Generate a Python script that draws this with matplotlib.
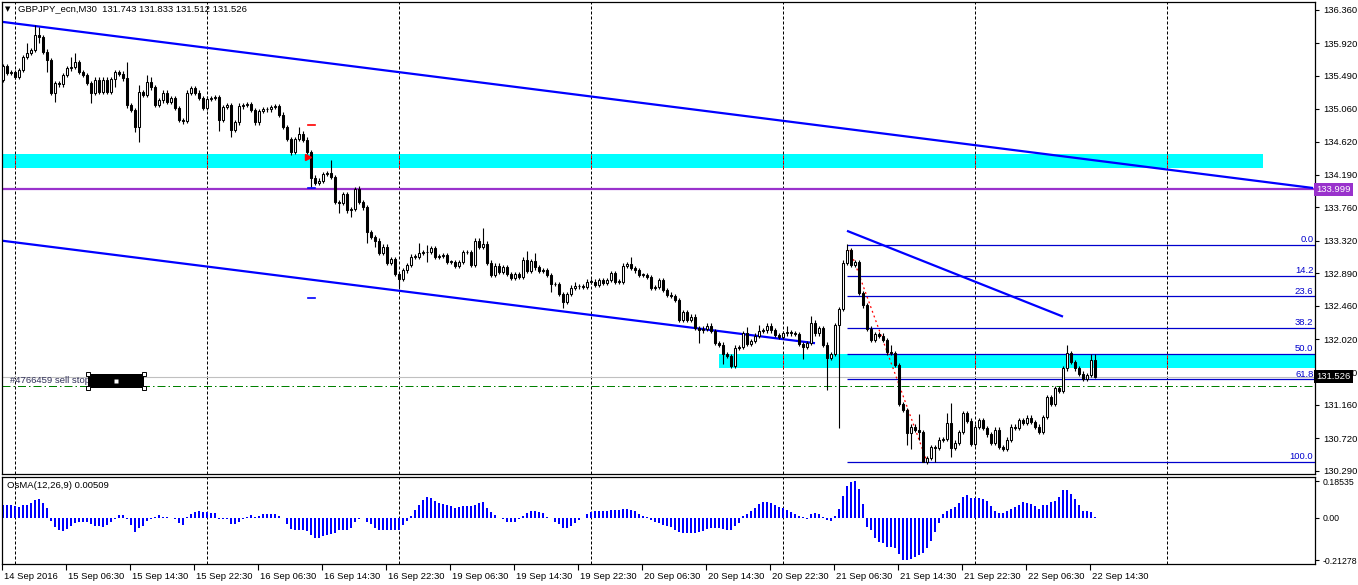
import numpy as np
import matplotlib
matplotlib.use("Agg")
import matplotlib.pyplot as plt
from matplotlib.patches import Rectangle
import matplotlib.transforms as mtransforms

plt.rcParams['font.family'] = ['Liberation Sans', 'DejaVu Sans']

# ---------------- data ----------------
symbol_header = "GBPJPY_ecn,M30  131.743 131.833 131.512 131.526"
osma_header = "OsMA(12,26,9) 0.00509"

first_open = 135.44
closes = [
    135.62, 135.53, 135.54, 135.48, 135.57, 135.74, 135.79, 135.83, 136.03, 136.00,
    135.81, 135.70, 135.27, 135.40, 135.38, 135.50, 135.59, 135.61, 135.67, 135.54,
    135.50, 135.40, 135.27, 135.44, 135.28, 135.44, 135.28, 135.45, 135.54, 135.52,
    135.46, 135.11, 135.04, 134.82, 135.28, 135.24, 135.41, 135.34, 135.11, 135.17,
    135.27, 135.15, 135.20, 135.07, 134.91, 134.90, 135.27, 135.33, 135.27, 135.20,
    135.07, 135.19, 135.20, 135.21, 134.91, 135.08, 135.11, 134.78, 134.88, 135.09,
    135.11, 135.12, 135.04, 134.88, 135.03, 135.05, 135.05, 135.08, 135.09, 134.98,
    134.82, 134.66, 134.49, 134.66, 134.73, 134.65, 134.49, 134.15, 134.08, 134.11,
    134.20, 134.21, 134.16, 133.83, 133.82, 133.93, 133.72, 133.74, 134.00, 133.83,
    133.76, 133.43, 133.37, 133.32, 133.16, 133.24, 133.03, 133.08, 132.88, 132.82,
    132.93, 133.00, 133.11, 133.11, 133.16, 133.17, 133.17, 133.22, 133.11, 133.12,
    133.13, 133.04, 133.04, 132.99, 133.04, 133.17, 133.17, 133.00, 133.32, 133.24,
    133.28, 133.03, 132.87, 132.99, 132.91, 132.97, 132.88, 132.83, 132.88, 132.84,
    133.07, 132.92, 133.05, 132.97, 132.92, 132.93, 132.87, 132.75, 132.75, 132.62,
    132.51, 132.62, 132.70, 132.72, 132.72, 132.71, 132.78, 132.78, 132.74, 132.80,
    132.76, 132.80, 132.89, 132.78, 132.78, 132.99, 133.01, 132.96, 132.93, 132.87,
    132.87, 132.84, 132.70, 132.71, 132.80, 132.67, 132.61, 132.59, 132.54, 132.28,
    132.38, 132.28, 132.32, 132.17, 132.14, 132.16, 132.20, 132.13, 131.97, 131.95,
    131.83, 131.80, 131.67, 131.91, 131.92, 132.10, 131.96, 132.00, 132.07, 132.13,
    132.14, 132.20, 132.14, 132.08, 132.05, 132.10, 132.12, 132.10, 132.09, 131.96,
    131.92, 131.97, 132.24, 132.10, 132.17, 131.95, 131.78, 131.83, 132.21, 132.42,
    133.03, 133.20, 133.00, 133.04, 132.63, 132.47, 132.16, 132.01, 132.09, 132.07,
    132.01, 131.85, 131.84, 131.68, 131.17, 131.09, 130.79, 130.87, 130.83, 130.80,
    130.41, 130.46, 130.60, 130.59, 130.70, 130.71, 130.92, 130.59, 130.66, 130.80,
    131.05, 130.95, 130.64, 130.87, 130.96, 130.85, 130.77, 130.66, 130.83, 130.60,
    130.58, 130.70, 130.87, 130.85, 130.96, 130.92, 130.99, 130.93, 130.87, 130.80,
    131.00, 131.26, 131.17, 131.38, 131.34, 131.64, 131.84, 131.72, 131.64, 131.57,
    131.50, 131.55, 131.743, 131.526,
]
upper_wick = [
    .03, .03, .03, .03, .03, .03, .14, .03, .13, .11,
    .03, .03, .03, .03, .03, .03, .03, .13, .12, .03,
    .03, .03, .03, .03, .03, .03, .03, .03, .03, .03,
    .03, .21, .03, .03, .09, .03, .09, .07, .03, .03,
    .03, .03, .03, .03, .03, .03, .03, .03, .03, .03,
    .03, .03, .03, .03, .03, .03, .03, .03, .03, .05,
    .03, .03, .03, .03, .03, .03, .03, .03, .03, .03,
    .03, .03, .03, .03, .09, .03, .03, .03, .03, .03,
    .03, .03, .17, .03, .03, .03, .03, .03, .03, .04,
    .03, .03, .03, .03, .03, .03, .03, .03, .03, .03,
    .03, .03, .03, .03, .13, .03, .09, .03, .03, .03,
    .03, .03, .03, .03, .03, .03, .03, .03, .03, .03,
    .21, .03, .03, .03, .03, .03, .03, .03, .03, .03,
    .03, .12, .03, .11, .03, .03, .03, .03, .03, .03,
    .03, .03, .03, .05, .03, .03, .03, .03, .03, .03,
    .03, .03, .03, .03, .03, .03, .03, .09, .03, .03,
    .03, .03, .03, .03, .03, .03, .03, .03, .03, .03,
    .03, .03, .03, .03, .03, .03, .03, .03, .03, .03,
    .03, .03, .03, .03, .03, .03, .08, .03, .03, .08,
    .03, .03, .03, .03, .03, .03, .07, .03, .03, .03,
    .03, .03, .09, .03, .03, .03, .03, .03, .03, .03,
    .03, .07, .03, .03, .03, .03, .03, .03, .03, .03,
    .03, .03, .09, .03, .03, .03, .03, .03, .03, .21,
    .03, .03, .03, .03, .03, .03, .13, .26, .03, .03,
    .03, .03, .03, .03, .03, .03, .03, .03, .03, .03,
    .03, .03, .03, .03, .03, .03, .03, .03, .03, .03,
    .03, .03, .03, .03, .03, .03, .11, .03, .03, .03,
    .03, .03, .08, .09,
]
lower_wick = [
    .03, .03, .03, .03, .03, .03, .03, .03, .03, .07,
    .03, .16, .03, .12, .03, .03, .03, .03, .03, .03,
    .03, .03, .13, .03, .03, .03, .03, .03, .11, .03,
    .03, .04, .03, .07, .20, .03, .03, .03, .03, .03,
    .03, .03, .03, .03, .03, .04, .03, .03, .03, .03,
    .03, .03, .03, .03, .14, .03, .03, .09, .03, .03,
    .03, .03, .03, .03, .03, .03, .03, .03, .03, .03,
    .03, .03, .04, .03, .03, .03, .03, .12, .03, .03,
    .03, .03, .03, .03, .13, .03, .03, .09, .03, .03,
    .03, .14, .03, .08, .03, .03, .03, .03, .03, .11,
    .03, .03, .03, .03, .03, .03, .13, .03, .03, .03,
    .03, .03, .03, .03, .03, .03, .03, .03, .03, .03,
    .03, .03, .03, .03, .03, .03, .03, .03, .03, .03,
    .03, .03, .03, .03, .03, .03, .03, .11, .03, .03,
    .08, .03, .03, .03, .03, .03, .03, .03, .03, .03,
    .03, .03, .03, .03, .03, .03, .03, .03, .03, .03,
    .03, .03, .03, .03, .03, .03, .03, .03, .03, .03,
    .03, .03, .03, .03, .17, .03, .03, .03, .03, .03,
    .13, .03, .03, .03, .03, .03, .03, .03, .03, .03,
    .03, .03, .03, .03, .03, .03, .03, .03, .03, .03,
    .16, .03, .03, .03, .03, .03, .43, .03, .03, 1.36,
    .03, .03, .03, .03, .03, .03, .03, .03, .03, .03,
    .03, .03, .03, .03, .03, .03, .16, .21, .03, .11,
    .01, .03, .03, .18, .03, .03, .03, .12, .03, .03,
    .03, .03, .03, .03, .03, .03, .03, .03, .03, .03,
    .03, .03, .03, .03, .03, .03, .03, .03, .03, .03,
    .03, .03, .03, .03, .03, .03, .03, .03, .03, .03,
    .03, .03, .03, .014,
]
osma = [
    .068, .065, .063, .059, .054, .063, .068, .074, .090, .095,
    .077, .050, -.013, -.043, -.061, -.067, -.054, -.040, -.027, -.022,
    -.018, -.018, -.031, -.040, -.040, -.043, -.036, -.022, -.004, .014,
    .014, -.007, -.036, -.070, -.049, -.040, -.013, -.004, .004, .013,
    .007, .004, -.002, -.004, -.025, -.036, .004, .018, .029, .036,
    .029, .029, .027, .023, -.004, -.005, -.004, -.031, -.031, -.018,
    -.007, .005, .014, .005, .011, .018, .018, .018, .018, .011,
    -.002, -.031, -.054, -.061, -.058, -.058, -.067, -.085, -.103, -.099,
    -.090, -.085, -.079, -.076, -.061, -.058, -.058, -.049, -.022, -.007,
    .002, -.022, -.031, -.049, -.058, -.058, -.061, -.058, -.058, -.058,
    -.036, -.013, .011, .041, .068, .090, .104, .101, .086, .077,
    .072, .065, .059, .050, .054, .058, .058, .058, .068, .074,
    .079, .050, .029, .014, .002, -.004, -.018, -.018, -.018, -.004,
    .011, .023, .036, .036, .032, .023, .005, .000, -.018, -.030,
    -.050, -.050, -.038, -.024, -.010, .002, .019, .031, .036, .036,
    .034, .034, .038, .038, .041, .046, .046, .041, .033, .021,
    .012, .003, -.012, -.022, -.024, -.034, -.040, -.043, -.058, -.071,
    -.074, -.076, -.076, -.076, -.072, -.065, -.053, -.050, -.050, -.052,
    -.055, -.058, -.058, -.041, -.024, .010, .022, .034, .052, .069,
    .081, .083, .074, .064, .057, .048, .040, .031, .019, .009,
    .003, -.004, .019, .024, .021, .007, -.010, -.017, .010, .045,
    .110, .162, .179, .18535, .148, .071, -.045, -.060, -.101, -.119,
    -.127, -.144, -.148, -.152, -.180, -.210, -.21278, -.205, -.196, -.188,
    -.176, -.150, -.115, -.070, -.025, .020, .035, .045, .055, .075,
    .108, .116, .100, .100, .100, .096, .088, .060, .037, .024,
    .024, .036, .045, .057, .065, .079, .076, .071, .060, .045,
    .065, .065, .082, .088, .105, .139, .139, .122, .098, .065,
    .036, .034, .030, .00509,
]

x_labels = ["14 Sep 2016", "15 Sep 06:30", "15 Sep 14:30", "15 Sep 22:30",
            "16 Sep 06:30", "16 Sep 14:30", "16 Sep 22:30", "19 Sep 06:30",
            "19 Sep 14:30", "19 Sep 22:30", "20 Sep 06:30", "20 Sep 14:30",
            "20 Sep 22:30", "21 Sep 06:30", "21 Sep 14:30", "21 Sep 22:30",
            "22 Sep 06:30", "22 Sep 14:30"]
price_ticks = [136.360, 135.920, 135.490, 135.060, 134.620, 134.190, 133.760,
               133.320, 132.890, 132.460, 132.020, 131.590, 131.160, 130.720, 130.290]
osma_ticks = [0.18535, 0.0, -0.21278]
osma_tick_labels = ["0.18535", "0.00", "-0.21278"]

fib_levels = [0.0, 14.2, 23.6, 38.2, 50.0, 61.8, 100.0]
fib_price_0 = 133.26
fib_price_100 = 130.40
fib_start_bar = 211
fib_swing_bars = [211.75, 231.0]
fib_swing_prices = [133.20, 130.41]

channel_top_bars = [-0.25, 327.5]
channel_top_prices = [136.203, 134.014]
channel_bottom_bars = [-0.25, 203.0]
channel_bottom_prices = [133.32, 131.97]
short_trend_bars = [211.0, 265.0]
short_trend_prices = [133.45, 132.32]

zone_upper_bars = [-1.0, 315.0]
zone_upper_prices = [134.281, 134.462]
zone_lower_bars = [179.0, 400.0]
zone_lower_prices = [131.647, 131.828]

resistance_level = 133.999
bid_price = 131.526
sell_stop_price = 131.41
sell_stop_text = "#4766459 sell stop"
sell_box_bars = [21.25, 35.25]
sell_box_prices = [131.38, 131.564]

order_mark_bars = [76.3, 78.0]
order_red_price = 134.84
order_arrow_price = 134.42
order_blue_prices = [134.02, 132.565]

# ---------------- figure ----------------
W, H = 1358, 585
fig = plt.figure(figsize=(W / 100, H / 100), dpi=100)
fig.patch.set_facecolor('white')

ax = fig.add_axes([2 / W, 1 - 474 / H, (1315 - 2) / W, (474 - 2) / H])
ax2 = fig.add_axes([2 / W, 1 - 564 / H, (1315 - 2) / W, (564 - 477) / H])

FS = 6.8
n = len(closes)
idx = np.arange(n)
c = np.array(closes)
o = np.r_[first_open, c[:-1]]
hi = np.maximum(o, c) + np.array(upper_wick)
lo = np.minimum(o, c) - np.array(lower_wick)

xmin, xmax = -0.25, 328.0
ax.set_xlim(xmin, xmax)
ax.set_ylim(130.247, 136.464)
ax2.set_xlim(xmin, xmax)
ax2.set_ylim(-0.2318, 0.2066)

# zones
for bars, prices in [(zone_upper_bars, zone_upper_prices), (zone_lower_bars, zone_lower_prices)]:
    ax.add_patch(Rectangle((bars[0], prices[0]), bars[1] - bars[0], prices[1] - prices[0],
                           facecolor='#00FFFF', edgecolor='none', zorder=1))

# vertical dashed grid
grid_x = np.arange(3, xmax, 48)
for gx in grid_x:
    ax.axvline(gx, color='black', lw=0.72, ls=(0, (3, 2)), zorder=1.5)
    ax2.axvline(gx, color='black', lw=0.72, ls=(0, (3, 2)), zorder=0.5)
    for bars, prices in [(zone_upper_bars, zone_upper_prices), (zone_lower_bars, zone_lower_prices)]:
        if bars[0] <= gx <= bars[1]:
            ax.plot([gx, gx], prices, color='red', lw=0.72, ls=(0, (3, 2)), zorder=1.6)

# horizontal levels
ax.axhline(resistance_level, color='#9932CC', lw=1.6, zorder=2)
ax.axhline(bid_price, color='#C0C0C0', lw=0.8, zorder=2)
ax.axhline(sell_stop_price, color='#008000', lw=0.72, ls=(0, (8, 3, 1.5, 3)), zorder=2)

# trend lines
for bx, py in [(channel_top_bars, channel_top_prices),
               (channel_bottom_bars, channel_bottom_prices),
               (short_trend_bars, short_trend_prices)]:
    ax.plot(bx, py, color='#0000FF', lw=1.6, zorder=2.2, solid_capstyle='butt')

# fibonacci
fib_prices = [fib_price_0 - lv / 100.0 * (fib_price_0 - fib_price_100) for lv in fib_levels]
ax.hlines(fib_prices, fib_start_bar, xmax, color='#0000CD', lw=0.9, zorder=2.1)
for lv, fp in zip(fib_levels, fib_prices):
    ax.text(xmax - 0.4, fp + 0.012, f"{lv:.1f}", ha='right', va='bottom', fontsize=FS,
            color='#0000CD', zorder=6)
ax.plot(fib_swing_bars, fib_swing_prices, color='red', lw=0.9, ls=(0, (1.5, 2.5)), zorder=2.3)

# order marks
ax.plot(order_mark_bars, [order_red_price] * 2, color='red', lw=1.2, zorder=5)
ax.plot([order_mark_bars[0]], [order_arrow_price], marker='>', color='red', ms=4, zorder=5)
for bp in order_blue_prices:
    ax.plot(order_mark_bars, [bp] * 2, color='#0000FF', lw=1.2, zorder=5)

# candles
ax.vlines(idx, lo, hi, color='black', lw=0.8, zorder=3)
bull = c >= o
body_h = np.maximum(np.abs(c - o), 0.006)
body_b = np.minimum(o, c)
ax.bar(idx, body_h, bottom=body_b, width=0.5,
       color=np.where(bull, 'white', 'black'), edgecolor='black', linewidth=0.75, zorder=4)

# sell stop label & selected box
ax.text(1.75, sell_stop_price + 0.065, sell_stop_text, fontsize=FS, color='#303058',
        va='center', ha='left', zorder=5)
ax.add_patch(Rectangle((sell_box_bars[0], sell_box_prices[0]), sell_box_bars[1] - sell_box_bars[0],
                       sell_box_prices[1] - sell_box_prices[0], facecolor='black',
                       edgecolor='none', zorder=6))
hx = [sell_box_bars[0], sell_box_bars[1], sell_box_bars[0], sell_box_bars[1]]
hy = [sell_box_prices[0], sell_box_prices[0], sell_box_prices[1], sell_box_prices[1]]
ax.plot(hx, hy, ls='none', marker='s', ms=3.2, mfc='white', mec='black', mew=0.7, zorder=7)
ax.plot([np.mean(sell_box_bars)], [np.mean(sell_box_prices)], ls='none', marker='s', ms=2.2,
        mfc='white', mec='none', zorder=7)

# header texts
fig.text(8 / W, 1 - 9 / H, '\u25BC', fontsize=5, family='DejaVu Sans', va='center', ha='center')
fig.text(18 / W, 1 - 9 / H, symbol_header, fontsize=FS, va='center', ha='left')
fig.text(7 / W, 1 - 485 / H, osma_header, fontsize=FS, va='center', ha='left')

# axes styling
for a in (ax, ax2):
    for s in a.spines.values():
        s.set_linewidth(0.9)
        s.set_color('black')
    a.yaxis.tick_right()
    a.set_facecolor('white')

ax.tick_params(axis='x', bottom=False, labelbottom=False)
ax.set_yticks(price_ticks)
ax.set_yticklabels([f"{p:.3f}" for p in price_ticks])
ax.tick_params(axis='y', right=True, left=False, direction='out', length=3, width=0.8,
               labelsize=FS, pad=3)

# OsMA histogram
ax2.bar(idx, osma, width=0.72, color='#0000FF', linewidth=0, zorder=2)
ax2.set_yticks(osma_ticks)
ax2.set_yticklabels(osma_tick_labels)
ax2.tick_params(axis='y', right=True, left=False, direction='out', length=3, width=0.8,
                labelsize=6.3, pad=2.5)
xt = np.arange(len(x_labels)) * 16 - 0.25
ax2.set_xticks(xt)
ax2.set_xticklabels(x_labels, ha='left')
ax2.tick_params(axis='x', direction='out', length=4, width=0.8, labelsize=FS, pad=2)
off = mtransforms.ScaledTranslation(2 / 100, 0, fig.dpi_scale_trans)
for lbl in ax2.get_xticklabels():
    lbl.set_transform(lbl.get_transform() + off)

# price tags on the axis
trans = mtransforms.blended_transform_factory(ax.transAxes, ax.transData)
ax.text(1.0012, resistance_level, f"{resistance_level:.3f}", transform=trans, ha='left',
        va='center', fontsize=FS, color='white', clip_on=False, zorder=10,
        bbox=dict(boxstyle='square,pad=0.22', fc='#9932CC', ec='none'))
ax.text(1.0012, bid_price, f"{bid_price:.3f}", transform=trans, ha='left',
        va='center', fontsize=FS, color='white', clip_on=False, zorder=10,
        bbox=dict(boxstyle='square,pad=0.22', fc='black', ec='none'))

fig.savefig("out.png", dpi=100, facecolor='white')
